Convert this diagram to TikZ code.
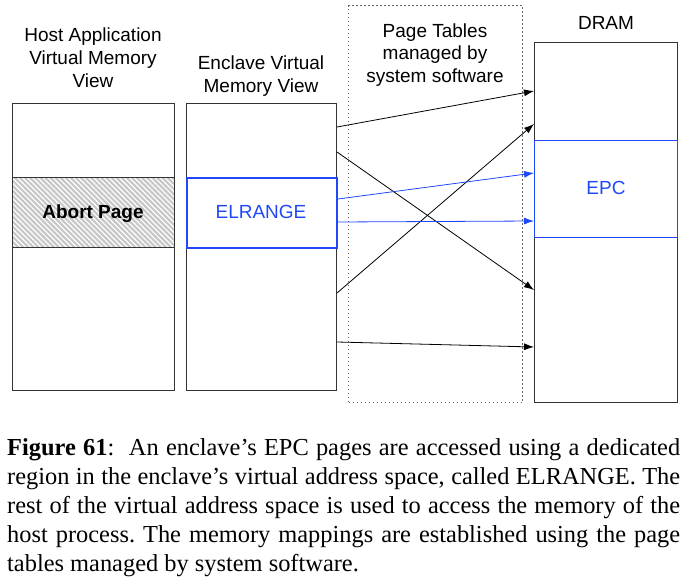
\documentclass[tikz,border=0pt]{standalone}
\usepackage{fontspec}
\setmainfont{Liberation Serif}
\setsansfont{Liberation Sans}
\usetikzlibrary{arrows.meta,patterns.meta}

\definecolor{elblue}{RGB}{32,72,250}

\tikzset{
	membox/.style={draw=black!80,line width=1pt,inner sep=0pt,anchor=north west},
	maparrow/.style={-{Latex[length=10pt,width=7pt]},line width=0.8pt},
	lbl/.style={font=\sffamily\fontsize{19}{22.8}\selectfont,align=center,anchor=base,inner sep=0pt}
}

\begin{document}
\begin{tikzpicture}[x=1pt,y=-1pt]

\useasboundingbox (0,0) rectangle (686,588);

% page tables region
\node[membox,draw=black!60,line width=1.2pt,dash pattern=on 1.2pt off 2.8pt,
	minimum width=174pt,minimum height=397pt] (pt) at (348,5) {};

% host application view
\node[membox,minimum width=162pt,minimum height=287pt] (host) at (12,103) {};
\node[membox,minimum width=162pt,minimum height=70pt,preaction={fill=black!22},
	pattern={Lines[angle=-45,distance=3.6pt,line width=1.2pt]},pattern color=white] (abort) at (12,177) {};

% enclave view
\node[membox,minimum width=150pt,minimum height=287pt] (encl) at (186,103) {};
\node[membox,draw=elblue,line width=2pt,minimum width=150pt,minimum height=70pt] (elr) at (186,177) {};

% dram
\node[membox,minimum width=143pt,minimum height=360pt] (dram) at (534,42) {};
\node[membox,draw=elblue,line width=0.8pt,minimum width=143pt,minimum height=97pt] (epc) at (534,140) {};

\node[lbl,font=\sffamily\bfseries\fontsize{19}{22.8}\selectfont] (abortlbl) at (93,218.3) {Abort Page};
\node[lbl,text=elblue] (elrlbl) at (261,218.3) {ELRANGE};
\node[lbl,text=elblue] (epclbl) at (606,195) {EPC};

% base of a multi-line label = its last line
\node[lbl] (hostlbl) at (93,87.3) {Host Application\\Virtual Memory\\View};
\node[lbl] (encllbl) at (261,92.3) {Enclave Virtual\\Memory View};
\node[lbl] (ptlbl) at (435,82.7) {Page Tables\\managed by\\system software};
\node[lbl] (dramlbl) at (606,29.3) {DRAM};

% mappings
\foreach \a/\b in {127/91,152/290,293/124,342/347}{
	\draw[maparrow] (encl.east |- 0,\a) -- (dram.west |- 0,\b);
}
\foreach \a/\b in {199/173,222/221}{
	\draw[maparrow,elblue] (elr.east |- 0,\a) -- (dram.west |- 0,\b);
}

\node[anchor=base west,inner sep=0pt,text width=673pt,align=justify,
	font=\fontsize{24.4}{29}\selectfont] (caption) at (7,455)
	{\hyphenpenalty=10000\frenchspacing\textbf{Figure 61}:\hspace{0.6em}An enclave’s EPC pages are accessed using a dedicated\linebreak
	region in the enclave’s virtual address space, called ELRANGE. The\linebreak
	rest of the virtual address space is used to access the memory of the\linebreak
	host process. The memory mappings are established using the page\linebreak
	tables managed by system software.};

\end{tikzpicture}
\end{document}
